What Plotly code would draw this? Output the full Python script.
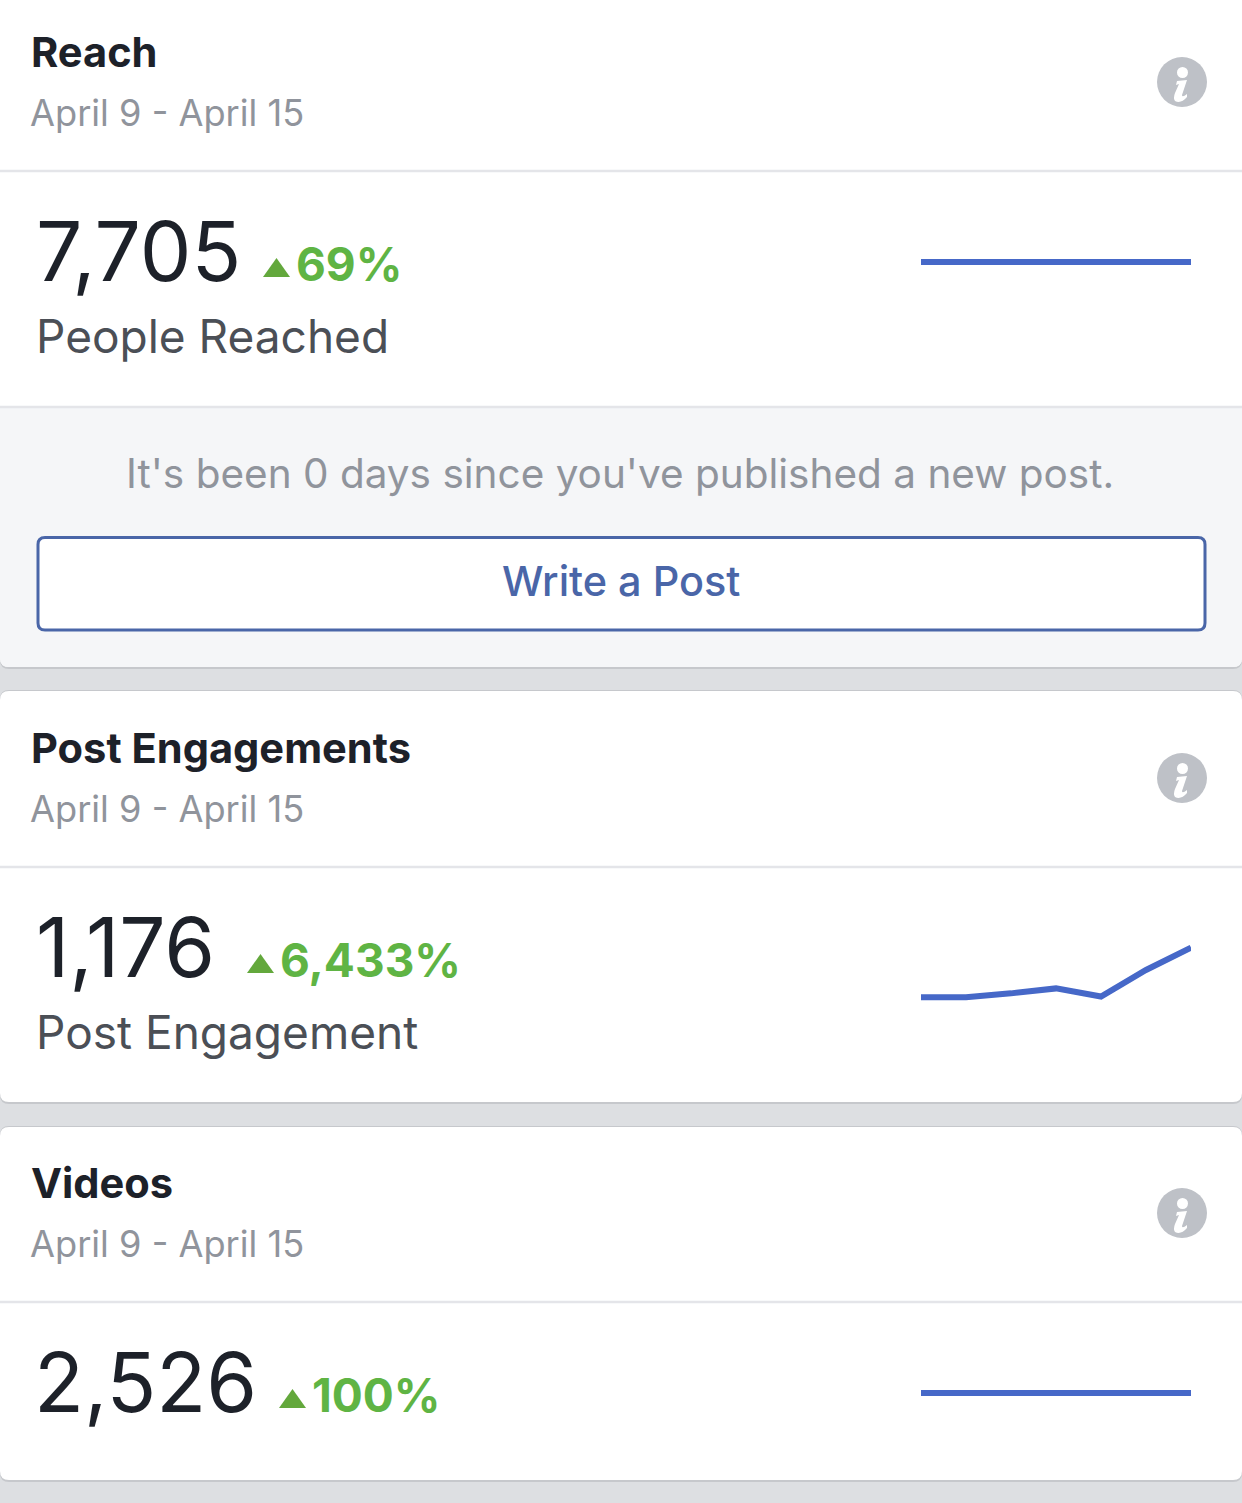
import plotly.graph_objects as go

W, H = 1242, 1503
days = ["Apr 9", "Apr 10", "Apr 11", "Apr 12", "Apr 13", "Apr 14", "Apr 15"]
reach_daily = [1100, 1100, 1100, 1100, 1100, 1100, 1100]
engagement_daily = [10, 10, 58, 120, 18, 350, 630]
video_daily = [361, 361, 361, 361, 361, 361, 361]

titles = ["Reach", "Post Engagements", "Videos"]
date_range = "April 9 - April 15"
totals = ["7,705", "1,176", "2,526"]
changes = ["69%", "6,433%", "100%"]
metric_labels = ["People Reached", "Post Engagement", ""]
prompt_text = "It's been 0 days since you've published a new post."
button_text = "Write a Post"

FONT = "Inter"
INK, GREY, LABEL, GREEN, BLUE, LINE = "#1d2129", "#90949c", "#4b4f56", "#5fb444", "#4a66a8", "#4668c8"


def rrect(x0, y0, x1, y1, r):
    return (f"M{x0+r},{y0} L{x1-r},{y0} Q{x1},{y0} {x1},{y0+r} L{x1},{y1-r} Q{x1},{y1} {x1-r},{y1} "
            f"L{x0+r},{y1} Q{x0},{y1} {x0},{y1-r} L{x0},{y0+r} Q{x0},{y0} {x0+r},{y0} Z")


def bottom_round(x0, y0, x1, y1, r):
    return (f"M{x0},{y0} L{x1},{y0} L{x1},{y1-r} Q{x1},{y1} {x1-r},{y1} "
            f"L{x0+r},{y1} Q{x0},{y1} {x0},{y1-r} Z")


shapes = []


def path(p, fill, line=None, lw=0):
    shapes.append(dict(type="path", path=p, xref="x", yref="y", fillcolor=fill, layer="below",
                       line=dict(color=line or fill, width=lw)))


def card(y0, y1):
    path(rrect(0, y0 - 1, W, y1 + 2, 9), "#c6c8cc")
    path(rrect(0, y0, W, y1, 9), "#ffffff")


def hline(y):
    path(f"M0,{y-1.2} L{W},{y-1.2} L{W},{y+1.2} L0,{y+1.2} Z", "#e4e5e9")


def info(cx, cy):
    shapes.append(dict(type="circle", xref="x", yref="y", x0=cx-25, x1=cx+25, y0=cy-25, y1=cy+25,
                       fillcolor="#bec1c7", line=dict(width=0), layer="below"))
    shapes.append(dict(type="circle", xref="x", yref="y", x0=cx-5, x1=cx+6, y0=cy-15, y1=cy-4,
                       fillcolor="#ffffff", line=dict(width=0), layer="below"))
    path(f"M{cx-5},{cy-1} L{cx+5},{cy-2} L{cx},{cy+13} Q{cx},{cy+16} {cx+5},{cy+12} L{cx+5},{cy+15} "
         f"Q{cx-1},{cy+22} {cx-7},{cy+19} Q{cx-9},{cy+16} {cx-7},{cy+11} L{cx-3},{cy+2} L{cx-6},{cy+3} Z", "#ffffff")


def triangle(x0, y1):
    path(f"M{x0},{y1} L{x0+27},{y1} L{x0+13.5},{y1-19} Z", "#63a83c")


annotations = []


def text(x, y, s, size, color, weight=400, anchor="left"):
    annotations.append(dict(x=x, y=y, xref="x", yref="y", text=s, showarrow=False, xanchor=anchor,
                            yanchor="middle", borderpad=0, borderwidth=0,
                            font=dict(family=FONT, size=size, color=color, weight=weight)))


# page cards
card(-20, 667)
path(bottom_round(0, 408, W, 667, 9), "#f5f6f8")
path(rrect(38, 537.5, 1205, 630, 7), "#ffffff", BLUE, 3)
hline(171); hline(407)
card(691, 1102); hline(867)
card(1127, 1480); hline(1302)

card_title_y = [52, 748, 1183]
card_date_y = [113, 809, 1244]
total_y = [251, 947, 1382]
total_x = [36, 36, 34]
change_x = [296, 280, 312]
tri_x = [263, 247, 279]
tri_y = [277, 973, 1408]
label_y = [336, 1032, None]

for i in range(3):
    text(31, card_title_y[i], titles[i], 41.6, INK, 700)
    text(30, card_date_y[i], date_range, 36.2, GREY)
    text(total_x[i], total_y[i], totals[i], 82, INK)
    text(change_x[i], total_y[i] + 13, changes[i], 46, GREEN, 700)
    triangle(tri_x[i], tri_y[i])
    if metric_labels[i]:
        text(36, label_y[i], metric_labels[i], 46, LABEL)
    info(1182, card_title_y[i] + 30)

text(620, 473, prompt_text, 40.5, GREY, anchor="center")
text(621, 581, button_text, 41.4, BLUE, 500, anchor="center")

fig = go.Figure()
fig.add_trace(go.Scatter(x=[0], y=[0], mode="markers", marker=dict(opacity=0), hoverinfo="skip", showlegend=False))

series = [reach_daily, engagement_daily, video_daily]
# pixel boxes of the three sparkline plots and their value ranges
boxes = [(222, 302), (930, 1010), (1353, 1433)]
ranges = [(600, 1600), (-150, 850), (-139, 861)]
for i, vals in enumerate(series):
    n = i + 2
    fig.add_trace(go.Scatter(x=days, y=vals, mode="lines", line=dict(color=LINE, width=6, shape="linear"),
                             xaxis=f"x{n}", yaxis=f"y{n}", showlegend=False, hoverinfo="skip"))
    top, bot = boxes[i]
    fig.update_layout({
        f"xaxis{n}": dict(domain=[921 / W, 1191 / W], range=[0, 6], visible=False, type="category", anchor=f"y{n}"),
        f"yaxis{n}": dict(domain=[1 - bot / H, 1 - top / H], range=list(ranges[i]), visible=False, anchor=f"x{n}"),
    })

fig.update_layout(
    width=W, height=H, margin=dict(l=0, r=0, t=0, b=0),
    paper_bgcolor="#dddfe2", plot_bgcolor="rgba(0,0,0,0)",
    xaxis=dict(domain=[0, 1], range=[0, W], visible=False, fixedrange=True),
    yaxis=dict(domain=[0, 1], range=[H, 0], visible=False, fixedrange=True),
    shapes=shapes, annotations=annotations, showlegend=False,
)
fig.write_html("out.html", config=dict(displayModeBar=False),
               post_script="document.body.style.margin='0';document.body.style.overflow='hidden';")
